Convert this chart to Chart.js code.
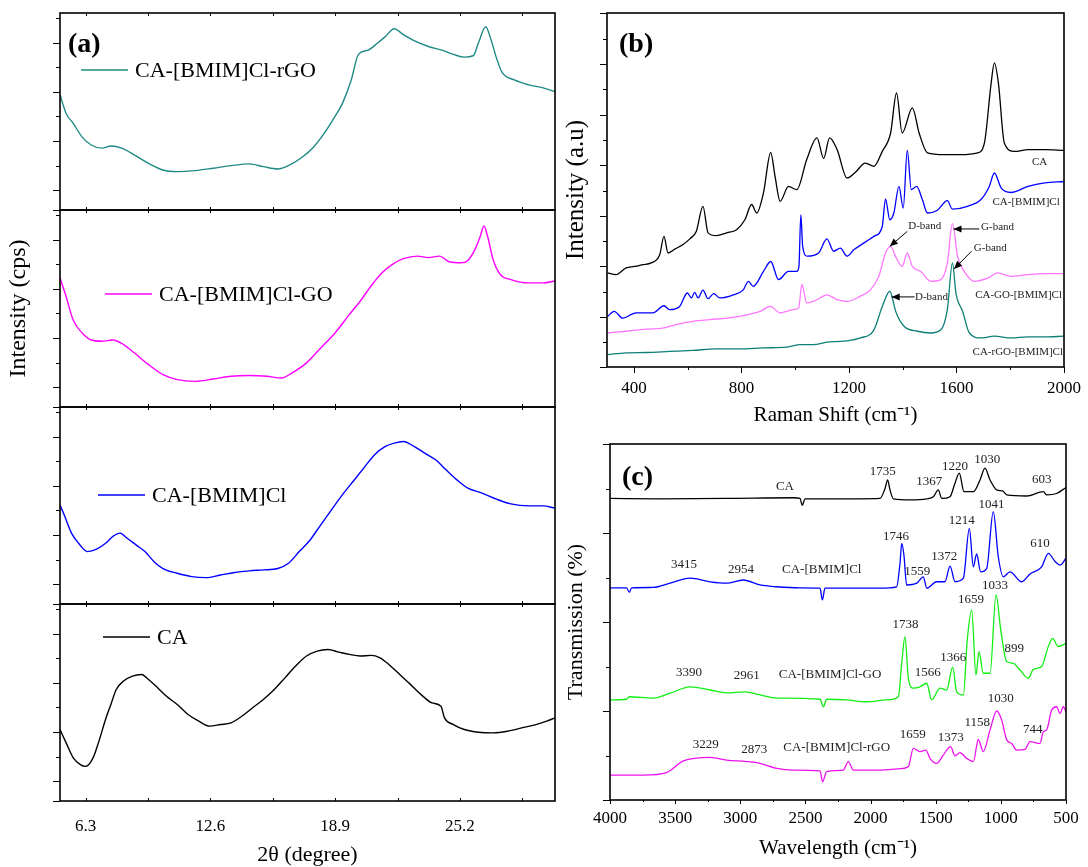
<!DOCTYPE html>
<html>
<head>
<meta charset="utf-8">
<script src="https://cdn.jsdelivr.net/npm/chart.js@4.4.1/dist/chart.umd.min.js"></script>
<style>
  html, body { margin: 0; padding: 0; background: #fff; overflow: hidden; }
  #fig { position: relative; width: 1088px; height: 867px; background: #fff; }
  #fig canvas { position: absolute; }
</style>
</head>
<body>
<div id="fig"></div>
<script>
const SERIF = "'Liberation Serif', 'Times New Roman', serif";

// ---- (a) XRD : [2theta (deg), intensity in strip units 0-100] ----
const XRD_RGO = [[5.0,58.5],[5.31,49],[5.67,44],[6.12,37],[6.58,33],[7.12,31.4],[7.57,32.5],[8.12,31.4],[8.75,28],[9.47,23.7],[10.2,20.3],[10.92,19.5],[11.83,20],[12.74,21.2],[13.64,22.5],[14.55,23.4],[15.27,22],[16.0,20.8],[16.54,22.5],[17.26,27],[17.81,32],[18.35,39],[18.89,47.5],[19.26,54],[19.71,66],[20.07,79],[20.53,81],[21.07,85],[21.43,88],[21.88,92],[22.34,89],[22.88,86],[23.61,83],[24.33,81],[24.87,79],[25.42,77.6],[25.87,78.3],[26.14,85],[26.5,93],[26.78,86],[27.05,77],[27.32,70],[27.95,66],[28.68,63.5],[29.4,62],[30.0,60]];
const XRD_GO = [[5.0,65.6],[5.31,56],[5.67,44],[6.12,37.6],[6.58,34],[7.12,33.4],[7.66,34],[8.21,31.7],[8.75,27.5],[9.47,21.5],[10.2,16.4],[10.92,13.9],[11.83,13],[12.74,14.2],[13.64,15.6],[14.55,16],[15.45,15.6],[16.18,14.7],[16.72,17.3],[17.45,22.4],[18.17,30],[18.89,37.6],[19.62,47],[20.16,53.7],[20.71,61.4],[21.25,68],[21.79,72.4],[22.34,75.3],[23.06,76.6],[23.61,75.8],[24.15,76.6],[24.69,73.6],[25.24,73.2],[25.6,74.4],[25.96,80],[26.23,86.8],[26.41,91.9],[26.59,86.8],[26.87,75],[27.23,67.3],[27.77,64.7],[28.68,63],[29.4,63],[30.0,64]];
const XRD_BMIM = [[5.0,50.3],[5.22,45],[5.58,36],[5.94,30.8],[6.39,26.6],[6.85,27.8],[7.3,30.8],[7.66,34.2],[8.03,36],[8.39,33.4],[8.84,30],[9.29,26.6],[9.75,21.5],[10.2,18],[10.92,15.6],[11.65,13.9],[12.37,13.4],[13.1,14.7],[13.82,16],[14.55,16.8],[15.27,17.3],[16.0,18],[16.54,20.7],[17.08,26.6],[17.63,32.5],[18.17,40.2],[18.71,47.8],[19.26,55.4],[19.8,62.2],[20.34,69],[20.89,75.8],[21.43,80],[21.88,81.7],[22.34,82.5],[22.88,80],[23.42,76.6],[23.97,73.2],[24.51,68],[25.05,63],[25.6,58.8],[26.32,56.3],[27.05,53.2],[27.77,50.8],[28.68,49.8],[29.4,49.8],[30.0,48.6]];
const XRD_CA = [[5.0,36.3],[5.31,29.5],[5.67,21.9],[6.03,18.5],[6.3,17.6],[6.67,21.9],[6.94,29.5],[7.3,41.4],[7.57,49],[7.84,56.6],[8.21,60.9],[8.66,63.4],[9.11,64.2],[9.47,61.7],[9.93,57.5],[10.38,53.2],[10.92,49],[11.47,43.9],[12.01,40.5],[12.55,38],[13.1,38.8],[13.64,39.7],[14.18,43],[14.73,47.3],[15.27,51.5],[15.82,56.6],[16.36,62.5],[16.9,68.5],[17.45,73.6],[17.99,76.1],[18.53,76.9],[19.08,75.6],[19.62,74.4],[20.16,73.6],[20.71,73.9],[21.16,72.7],[21.61,69.3],[22.16,64.2],[22.7,59.2],[23.24,54],[23.79,49.8],[24.24,48.1],[24.42,42.2],[24.87,38.8],[25.42,36.3],[26.14,34.9],[26.87,34.6],[27.59,35.4],[28.32,37.1],[29.04,38.8],[29.58,40.5],[30.0,42.2]];
const XRD_LABELS = ['CA-[BMIM]Cl-rGO', 'CA-[BMIM]Cl-GO', 'CA-[BMIM]Cl', 'CA'];
const XRD_X_MAJOR = [6.3, 12.6, 18.9, 25.2];
const XRD_X_MINOR = [9.45, 15.75, 22.05, 28.35];
const STRIP_Y_MAJOR = [0, 10, 35, 60, 85];
const STRIP_Y_MINOR = [22.5, 47.5, 72.5, 97.5];

// ---- (b) Raman : [shift (cm-1), intensity 0-100] ----
const RAMAN_CA = [[302,26.6],[334,26.1],[371,28],[402,28.4],[433,28.9],[464,29.4],[496,31.7],[512,36.9],[527,32.2],[552,33.3],[583,34.6],[608,36.2],[632,38.3],[657,45.4],[676,37.9],[707,37.1],[745,37.9],[782,38.8],[813,41.6],[838,45.9],[857,43.5],[882,49.2],[909,60.6],[925,53.9],[944,46.8],[975,51],[1006,50.1],[1043,58.6],[1081,64.7],[1106,58.9],[1128,64.7],[1156,61.4],[1193,53.4],[1224,55],[1261,57.6],[1293,56.7],[1324,60.9],[1355,66.1],[1377,77.4],[1398,66.1],[1436,73.2],[1461,66.1],[1492,60.5],[1554,60],[1616,60],[1679,60.5],[1704,63.3],[1729,80.2],[1741,85.9],[1756,80.2],[1778,63.3],[1816,60.9],[1866,61.4],[1928,61.4],[2000,61.2]];
const RAMAN_BMIM = [[302,14.3],[327,15.7],[358,13.8],[408,15.3],[471,15.3],[512,17.3],[533,16.2],[570,17.1],[599,20.9],[614,19.5],[626,21.1],[639,19.5],[657,21.7],[676,19.3],[697,20.7],[720,19.5],[770,20.4],[807,21.8],[826,24.2],[844,22.8],[882,27],[909,29.8],[938,24.7],[975,27],[1006,27],[1014,28.5],[1021,43],[1028,34],[1045,31.3],[1087,32.2],[1118,36.2],[1143,32.7],[1168,33.6],[1193,31.3],[1218,33.1],[1255,35],[1293,36.9],[1324,39.7],[1336,47.5],[1352,41.6],[1367,43.5],[1386,51],[1402,44.9],[1417,61.2],[1432,50.1],[1452,51],[1473,47.3],[1492,43.5],[1529,44.3],[1566,47],[1585,44.6],[1641,45.4],[1691,47.3],[1722,51],[1741,54.8],[1766,50.6],[1803,49.3],[1866,51],[1928,52],[2000,52.4]];
const RAMAN_GO = [[302,9.6],[371,10.1],[446,10.7],[508,11],[558,12],[620,12.9],[682,13.4],[745,13.8],[807,14.5],[869,15.7],[907,17.1],[944,15.3],[994,16.2],[1013,16.7],[1025,23.3],[1043,18.1],[1081,19],[1118,20.4],[1156,19],[1193,18.5],[1243,20],[1280,21.8],[1311,25.6],[1336,32.2],[1355,34.1],[1374,31.1],[1398,28.4],[1417,32.2],[1436,28.4],[1467,27],[1504,24.2],[1542,24.7],[1566,29.4],[1585,40.5],[1604,31.3],[1629,27],[1666,24.2],[1716,25.1],[1753,26.6],[1803,25.6],[1866,26.1],[1928,26.4],[2000,26.4]];
const RAMAN_RGO = [[302,3.5],[371,4],[446,4.1],[533,4.4],[620,4.7],[707,5.1],[794,5.1],[882,5.4],[969,5.6],[1019,6.3],[1068,6.3],[1118,7],[1181,7.3],[1243,8.2],[1293,10.5],[1324,17.1],[1352,21.4],[1374,15.7],[1405,11.5],[1455,10.1],[1504,9.6],[1542,10.5],[1566,16.2],[1585,29.4],[1598,20.9],[1623,15.7],[1648,9.6],[1691,8.2],[1741,8.7],[1803,8.2],[1866,8.5],[1928,8.5],[2000,8.7]];
const RAMAN_LABELS = ['CA', 'CA-[BMIM]Cl', 'CA-GO-[BMIM]Cl', 'CA-rGO-[BMIM]Cl'];
const RAMAN_X_MAJOR = [400, 800, 1200, 1600, 2000];
const RAMAN_X_MINOR = [600, 1000, 1400, 1800];
const RAMAN_Y_MAJOR = [0, 14.2, 28.4, 42.7, 57, 71.2, 85.5, 100];
const RAMAN_Y_MINOR = [7, 21.3, 35.6, 49.8, 64.1, 78.4, 92.7];

// ---- (c) FTIR : [wavenumber (cm-1), transmission 0-100] ----
const FTIR_CA = [[4000,84.7],[3616,84.6],[3105,84.7],[2593,84.9],[2542,84.7],[2524,82.8],[2503,84.6],[2337,84.6],[2081,84.6],[1928,84.7],[1889,87.5],[1869,89.9],[1851,87.1],[1825,84.6],[1697,84.3],[1569,84.6],[1518,85.2],[1480,87.1],[1454,84.7],[1390,85.2],[1352,89],[1319,91.8],[1283,86.6],[1211,86.6],[1160,89.9],[1122,93.2],[1083,89.9],[1032,87.1],[986,86.8],[955,85.7],[802,85.4],[674,86.6],[648,85.7],[572,86.1],[500,87.8]];
const FTIR_BMIM = [[4000,59.6],[3872,59.6],[3852,58.3],[3834,59.6],[3667,59.7],[3539,60.9],[3386,62.3],[3232,61.3],[3105,60.9],[2977,61.8],[2849,60.4],[2721,59.9],[2542,59.6],[2388,59.5],[2370,56.2],[2350,59.5],[2209,59.5],[2081,59.5],[1928,59.5],[1800,59.9],[1774,66.5],[1761,72.1],[1744,68.8],[1723,60.4],[1646,60.9],[1595,62.7],[1569,59.5],[1493,61.3],[1429,61.3],[1390,65.7],[1352,61.3],[1288,62.3],[1242,76.3],[1211,65.5],[1186,69.1],[1155,64.1],[1109,65],[1058,81],[1020,68.4],[981,62.7],[930,64.1],[840,61.3],[776,63.5],[687,65.5],[636,69.3],[584,67],[546,66],[500,67.9]];
const FTIR_GO = [[4000,28.1],[3872,28.3],[3854,29],[3667,28.6],[3539,30],[3386,31.8],[3232,30.9],[3105,30.1],[2964,30.4],[2849,29.5],[2721,28.6],[2388,28.3],[2362,26.2],[2337,28.3],[2184,28.1],[2030,27.6],[1876,28.1],[1787,29],[1761,38.4],[1736,45.9],[1710,34.2],[1672,31.4],[1621,31.8],[1569,32.8],[1531,28.1],[1467,31.4],[1416,30.9],[1370,37.3],[1339,30.4],[1288,29.5],[1258,44.9],[1224,53.4],[1191,35.1],[1168,41.7],[1135,35.6],[1083,35.6],[1037,57.6],[1001,47.8],[955,38.9],[904,38.4],[853,36.5],[789,34.2],[751,36.7],[687,37.5],[636,43.1],[603,45.4],[559,43.1],[500,44]];
const FTIR_RGO = [[4000,7],[3744,7],[3565,7.7],[3437,11],[3232,12],[3105,11.2],[2951,10.8],[2849,10.3],[2721,8.9],[2593,8.4],[2388,8.2],[2368,5.1],[2337,8],[2209,8.4],[2171,10.8],[2132,8.4],[1953,8.4],[1749,8.9],[1710,9.4],[1672,14.5],[1621,13.6],[1575,14],[1544,11.7],[1493,10.3],[1442,12.6],[1386,15],[1352,12.4],[1314,13.3],[1263,11.7],[1211,10.8],[1173,17],[1135,13.6],[1083,19.7],[1032,25],[994,22.5],[955,16.9],[917,15.9],[878,14],[815,14.2],[776,16.4],[700,15.9],[674,19.2],[648,19.7],[610,25.3],[572,26.2],[546,24.3],[521,26.2],[500,24.8]];
const FTIR_LABELS = ['CA', 'CA-[BMIM]Cl', 'CA-[BMIM]Cl-GO', 'CA-[BMIM]Cl-rGO'];
const FTIR_X_MAJOR = [500, 1000, 1500, 2000, 2500, 3000, 3500, 4000];
const FTIR_X_MINOR = [750, 1250, 1750, 2250, 2750, 3250, 3750];
const FTIR_Y_MAJOR = [0, 25, 50, 75, 100];
const FTIR_Y_MINOR = [12.5, 37.5, 62.5, 87.5];

const pts = a => a.map(([x, y]) => ({ x, y }));
const line = (label, data, color, w) => ({
  label, data: pts(data), borderColor: color, borderWidth: w,
  showLine: true, pointRadius: 0, fill: false, cubicInterpolationMode: 'monotone'
});

// frame, tick marks, panel letter, in-plot key, notes and arrows
const deco = {
  id: 'deco',
  afterDraw(chart, args, o) {
    const { ctx, chartArea: a, scales } = chart;
    const px = v => scales.x.getPixelForValue(v), py = v => scales.y.getPixelForValue(v);
    ctx.save();
    ctx.strokeStyle = '#000';
    ctx.lineWidth = 1;
    ctx.beginPath();
    const m = o.marks || {};
    const xm = (vals, len) => (vals || []).forEach(v => {
      const x = Math.round(px(v)) + 0.5;
      (m.xEdges || ['bottom']).forEach(e => {
        const y0 = e === 'top' ? a.top : a.bottom;
        const dir = (e === 'top' ? -1 : 1) * (m.xIn ? -1 : 1);
        ctx.moveTo(x, y0); ctx.lineTo(x, y0 + dir * len);
      });
    });
    const ym = (vals, len) => (vals || []).forEach(v => {
      const y = Math.round(py(v)) + 0.5;
      ctx.moveTo(a.left, y); ctx.lineTo(a.left - len, y);
    });
    xm(m.xMajor, m.len[0]); xm(m.xMinor, m.len[1]);
    ym(m.yMajor, m.len[2]); ym(m.yMinor, m.len[3]);
    ctx.stroke();
    ctx.lineWidth = 1.6;
    ctx.strokeRect(a.left, a.top, a.right - a.left, a.bottom - a.top);
    ctx.fillStyle = '#000';
    ctx.textBaseline = 'middle';
    if (o.tag) {
      ctx.font = 'bold 28px ' + SERIF;
      ctx.textAlign = 'left';
      ctx.fillText(o.tag[0], a.left + o.tag[1], a.top + o.tag[2]);
    }
    if (o.key) {
      const ds = chart.data.datasets[0];
      const x0 = a.left + o.key[0], y0 = a.top + o.key[1];
      ctx.strokeStyle = ds.borderColor;
      ctx.lineWidth = 1.5;
      ctx.beginPath(); ctx.moveTo(x0, y0); ctx.lineTo(x0 + 47, y0); ctx.stroke();
      ctx.font = '22px ' + SERIF;
      ctx.textAlign = 'left';
      ctx.fillText(ds.label, x0 + 54, y0 + 1);
    }
    (o.notes || []).forEach(n => {
      ctx.font = o.noteSize + 'px ' + SERIF;
      ctx.textAlign = 'center';
      ctx.fillStyle = '#222';
      ctx.fillText(n[0], px(n[1]), py(n[2]));
    });
    (o.arrows || []).forEach(r => {
      const x1 = px(r[0]), y1 = py(r[1]), x2 = px(r[2]), y2 = py(r[3]);
      const ang = Math.atan2(y2 - y1, x2 - x1);
      ctx.strokeStyle = '#000'; ctx.fillStyle = '#000'; ctx.lineWidth = 1;
      ctx.beginPath(); ctx.moveTo(x1, y1); ctx.lineTo(x2, y2); ctx.stroke();
      ctx.beginPath();
      ctx.moveTo(x2, y2);
      ctx.lineTo(x2 - 8 * Math.cos(ang) + 3.5 * Math.sin(ang), y2 - 8 * Math.sin(ang) - 3.5 * Math.cos(ang));
      ctx.lineTo(x2 - 8 * Math.cos(ang) - 3.5 * Math.sin(ang), y2 - 8 * Math.sin(ang) + 3.5 * Math.cos(ang));
      ctx.closePath(); ctx.fill();
    });
    ctx.restore();
  }
};

function makeChart(p) {
  const cv = document.createElement('canvas');
  cv.width = p.box.w; cv.height = p.box.h;
  cv.style.left = p.box.x + 'px'; cv.style.top = p.box.y + 'px';
  document.getElementById('fig').appendChild(cv);
  const yW = p.area.l - p.box.x;
  const xH = p.box.y + p.box.h - p.area.b;
  const xShown = p.x.display !== false;
  const grid = { drawOnChartArea: false, drawTicks: false, display: true };
  const x = Object.assign({ type: 'linear', border: { display: false }, grid }, p.x);
  if (xShown) {
    x.afterFit = s => { s.height = xH; s.paddingLeft = 0; s.paddingRight = 0; };
    x.afterBuildTicks = s => { s.ticks = p.xLabels.map(v => ({ value: v })); };
  }
  const y = Object.assign({ type: 'linear', border: { display: false }, grid, ticks: { display: false } }, p.y);
  y.afterFit = s => { s.width = yW; s.paddingTop = 0; s.paddingBottom = 0; };
  return new Chart(cv, {
    type: 'scatter',
    data: { datasets: p.datasets },
    options: {
      responsive: false, animation: false, events: [],
      layout: { padding: { top: p.area.t - p.box.y, right: p.box.x + p.box.w - p.area.r, bottom: xShown ? 0 : xH, left: 0 } },
      plugins: { legend: { display: false }, tooltip: { enabled: false }, deco: p.deco || {} },
      scales: { x, y }
    },
    plugins: [deco]
  });
}

const tickFont = { family: SERIF, size: 17 };
const titleFont = size => ({ family: SERIF, size });

// (a) four stacked strips
const STRIP_EDGES = [13, 210, 407, 604, 801];
const STRIP_COLORS = ['#1f8a85', '#ff00ff', '#0000ff', '#000000'];
const STRIP_KEYS = [[21, 57], [45, 84], [38, 88], [43, 33]];
[XRD_RGO, XRD_GO, XRD_BMIM, XRD_CA].forEach((d, i) => {
  const last = i === 3, t = STRIP_EDGES[i], b = STRIP_EDGES[i + 1];
  makeChart({
    box: { x: 0, y: t - 10, w: 562, h: b - t + 10 + (last ? 67 : 10) },
    area: { l: 60, t, r: 555, b },
    datasets: [line(XRD_LABELS[i], d, STRIP_COLORS[i], 1.4)],
    xLabels: XRD_X_MAJOR,
    x: last ? {
      min: 5, max: 30,
      ticks: { autoSkip: false, maxRotation: 0, callback: v => v.toFixed(1), font: tickFont, color: '#000', padding: 15 },
      title: { display: true, text: '2\u03b8 (degree)', font: titleFont(22), color: '#000', padding: { top: 0, bottom: 0 } }
    } : { display: false, min: 5, max: 30 },
    y: Object.assign({ min: 0, max: 100 }, i === 1 ? {
      title: { display: true, text: 'Intensity (cps)', font: titleFont(24), color: '#000', padding: { top: 4, bottom: 0 } }
    } : {}),
    deco: {
      key: STRIP_KEYS[i], tag: i === 0 ? ['(a)', 8, 32] : null,
      marks: { xMajor: XRD_X_MAJOR, xMinor: XRD_X_MINOR, xIn: true, xEdges: ['top', 'bottom'],
               yMajor: STRIP_Y_MAJOR, yMinor: STRIP_Y_MINOR, len: [3, 3, 7, 4] }
    }
  });
});

// (b) Raman
makeChart({
  box: { x: 560, y: 0, w: 528, h: 430 },
  area: { l: 607, t: 13, r: 1064, b: 367 },
  datasets: [
    line(RAMAN_LABELS[0], RAMAN_CA, '#000000', 1.3),
    line(RAMAN_LABELS[1], RAMAN_BMIM, '#0000ff', 1.3),
    line(RAMAN_LABELS[2], RAMAN_GO, '#ff77ff', 1.3),
    line(RAMAN_LABELS[3], RAMAN_RGO, '#0d7f77', 1.3)
  ],
  xLabels: RAMAN_X_MAJOR,
  x: {
    min: 300, max: 2000,
    ticks: { autoSkip: false, maxRotation: 0, callback: v => String(v), font: tickFont, color: '#000', padding: 11 },
    title: { display: true, text: 'Raman Shift (cm\u207b\u00b9)', font: titleFont(21), color: '#000', padding: { top: 0, bottom: 2 } }
  },
  y: {
    min: 0, max: 100,
    title: { display: true, text: 'Intensity (a.u)', font: titleFont(25), color: '#000', padding: { top: 1, bottom: 0 } }
  },
  deco: {
    tag: ['(b)', 12, 32],
    marks: { xMajor: RAMAN_X_MAJOR, xMinor: RAMAN_X_MINOR, yMajor: RAMAN_Y_MAJOR, yMinor: RAMAN_Y_MINOR, len: [6, 3, 7, 4] },
    noteSize: 11,
    notes: [
      [RAMAN_LABELS[0], 1909, 57.8], [RAMAN_LABELS[1], 1859, 46.6],
      [RAMAN_LABELS[2], 1831, 20.3], [RAMAN_LABELS[3], 1828, 4.2],
      ['D-band', 1482, 39.9], ['G-band', 1753, 39.5], ['G-band', 1726, 33.5], ['D-band', 1507, 19.8]
    ],
    arrows: [[1417, 38.3, 1352, 34.1], [1685, 39, 1589, 39], [1656, 32.7, 1591, 27.7], [1444, 19.8, 1359, 19.8]]
  }
});

// (c) FTIR
makeChart({
  box: { x: 560, y: 430, w: 528, h: 437 },
  area: { l: 610, t: 444, r: 1066, b: 800 },
  datasets: [
    line(FTIR_LABELS[0], FTIR_CA, '#000000', 1.3),
    line(FTIR_LABELS[1], FTIR_BMIM, '#0000ff', 1.3),
    line(FTIR_LABELS[2], FTIR_GO, '#11ee11', 1.3),
    line(FTIR_LABELS[3], FTIR_RGO, '#ee11ee', 1.3)
  ],
  xLabels: FTIR_X_MAJOR,
  x: {
    min: 500, max: 4000, reverse: true,
    ticks: { autoSkip: false, maxRotation: 0, callback: v => String(v), font: tickFont, color: '#000', padding: 8 },
    title: { display: true, text: 'Wavelength (cm\u207b\u00b9)', font: titleFont(21), color: '#000', padding: { top: 0, bottom: 6 } }
  },
  y: {
    min: 0, max: 100,
    title: { display: true, text: 'Transmission (%)', font: titleFont(22), color: '#000', padding: { top: 3, bottom: 0 } }
  },
  deco: {
    tag: ['(c)', 12, 34],
    marks: { xMajor: FTIR_X_MAJOR, xMinor: FTIR_X_MINOR, yMajor: FTIR_Y_MAJOR, yMinor: FTIR_Y_MINOR, len: [4, 2, 7, 4] },
    noteSize: 13,
    notes: [
      ['1735', 1907, 92.2], ['1367', 1549, 89.4], ['1220', 1352, 93.6], ['1030', 1104, 95.7], ['603', 687, 90.1],
      [FTIR_LABELS[0], 2657, 88],
      ['1041', 1071, 83.1], ['1214', 1301, 78.5], ['1746', 1805, 74], ['610', 700, 71.9], ['1372', 1434, 68.4],
      ['1559', 1641, 64.1], ['3415', 3432, 66], ['2954', 2995, 64.6], [FTIR_LABELS[1], 2375, 64.6],
      ['1033', 1045, 60.3], ['1659', 1229, 56.4], ['1738', 1731, 49.2], ['899', 897, 42.4], ['1366', 1365, 40],
      ['1566', 1562, 35.9], ['3390', 3394, 35.9], ['2961', 2951, 34.9], [FTIR_LABELS[2], 2311, 35.1],
      ['1030', 1001, 28.6], ['1158', 1181, 21.8], ['744', 756, 19.9], ['1659', 1677, 18.5], ['1373', 1385, 17.6],
      ['3229', 3266, 15.7], ['2873', 2892, 14.2], [FTIR_LABELS[3], 2260, 14.7]
    ]
  }
});
</script>
</body>
</html>
